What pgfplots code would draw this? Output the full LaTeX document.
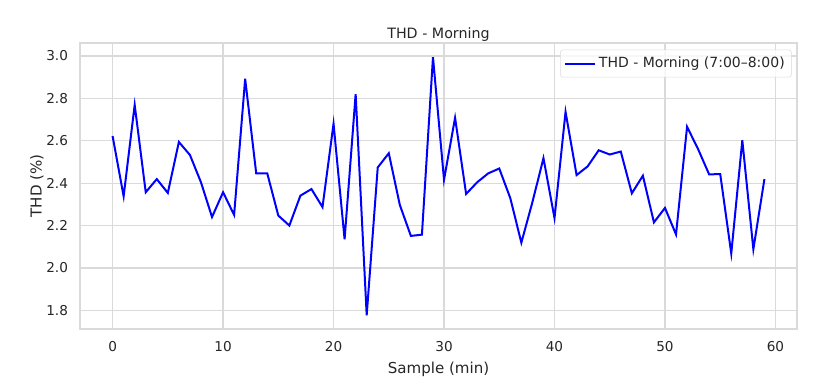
\documentclass[border=0pt]{standalone}
\usepackage{pgfplots}
\pgfplotsset{compat=1.18}
\usepackage{fontspec}
\setmainfont{DejaVu Sans}
\usetikzlibrary{calc}

\definecolor{txt}{RGB}{38,38,38}
\definecolor{gridc}{RGB}{218,218,218}
\definecolor{thd}{RGB}{0,0,255}

\begin{document}
\begin{tikzpicture}
\begin{axis}[
  name=ax,
  scale only axis,
  width=537.75pt, height=214.5pt,
  xmin=-2.95, xmax=61.95,
  ymin=1.712, ymax=3.061,
  xtick={0,10,...,60},
  ytick={1.8,2.0,...,3.0},
  yticklabel style={/pgf/number format/fixed, /pgf/number format/fixed zerofill,
    /pgf/number format/precision=1, xshift=-5.5pt},
  /pgf/number format/assume math mode=true,
  major tick length=0pt,
  axis line style={gridc, line width=1pt},
  grid=major,
  major grid style={gridc, line width=0.9pt},
  tick label style={font=\fontsize{10.2}{12}\selectfont, text=txt},
  xticklabel style={yshift=-5.5pt},
  title={THD - Morning},
  title style={font=\fontsize{10.7}{13}\selectfont, text=txt, at={(axis description cs:0.5,1)}, anchor=center, yshift=0pt},
  xlabel={Sample (min)},
  xlabel style={font=\fontsize{11.3}{13}\selectfont, text=txt, at={(axis description cs:0.5,0)}, anchor=center, yshift=-30pt},
  ylabel={THD (\%)},
  ylabel style={font=\fontsize{11.3}{13}\selectfont, text=txt, at={(axis description cs:0,0.5)}, anchor=center, yshift=32.25pt},
  legend style={at={(1,1)}, anchor=north east, xshift=-4pt, yshift=-5pt,
    draw=gridc, fill=white, fill opacity=0.8, text opacity=1, rounded corners=2pt,
    font=\fontsize{10.5}{12}\selectfont, text=txt, inner xsep=3pt, inner ysep=3.5pt},
  legend image code/.code={\draw[thd, line width=1.5pt] (0cm,0cm) -- (0.79cm,0cm);},
]
\addplot[thd, line width=1.5pt] coordinates {
(0,2.622) (1,2.338) (2,2.769) (3,2.357) (4,2.419) (5,2.354) (6,2.594) (7,2.533)
(8,2.404) (9,2.240) (10,2.357) (11,2.250) (12,2.892) (13,2.446) (14,2.446)
(15,2.247) (16,2.200) (17,2.341) (18,2.372) (19,2.287) (20,2.680) (21,2.135)
(22,2.820) (23,1.777) (24,2.474) (25,2.541) (26,2.297) (27,2.151) (28,2.157)
(29,2.994) (30,2.416) (31,2.708) (32,2.349) (33,2.404) (34,2.446) (35,2.469)
(36,2.329) (37,2.119) (38,2.310) (39,2.518) (40,2.235) (41,2.736) (42,2.438)
(43,2.479) (44,2.555) (45,2.535) (46,2.549) (47,2.352) (48,2.435) (49,2.215)
(50,2.283) (51,2.158) (52,2.666) (53,2.560) (54,2.441) (55,2.443) (56,2.068)
(57,2.602) (58,2.088) (59,2.419)
};
\addlegendentry{THD - Morning (7:00–8:00)}
\end{axis}
\path ($(ax.south west)+(-60pt,-46.5pt)$) rectangle ($(ax.north east)+(16.5pt,32.25pt)$);
\end{tikzpicture}
\end{document}
